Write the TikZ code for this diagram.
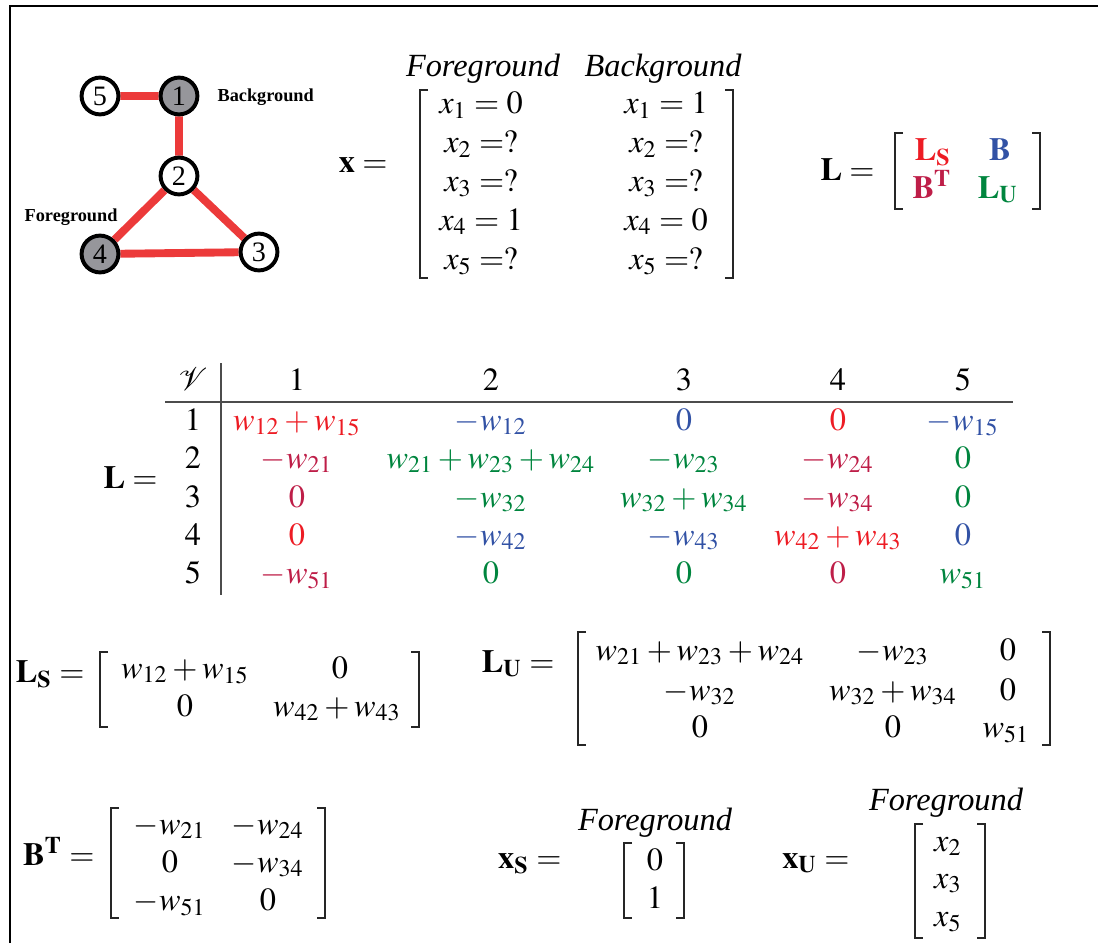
\documentclass[tikz,border=0pt]{standalone}
\usepackage{amsmath}
\usepackage{mathptmx}
\usepackage[no-math]{fontspec}
\setmainfont{Liberation Serif}
\usetikzlibrary{backgrounds}
\definecolor{lred}{RGB}{237,28,36}
\definecolor{lblue}{RGB}{50,82,165}
\definecolor{lcrim}{RGB}{190,30,72}
\definecolor{lgreen}{RGB}{0,133,62}
\definecolor{edgered}{RGB}{236,58,58}
\definecolor{vgray}{RGB}{150,150,155}

\newcommand{\qmk}{\mathrel{=}\mkern-0.5mu?}
% left and right bracket: x left, x right, y top, y bottom
\newcommand{\brkpair}[4]{%
  \draw[brk] (#1+8,#3) -- (#1,#3) -- (#1,#4) -- (#1+8,#4);
  \draw[brk] (#2-8,#3) -- (#2,#3) -- (#2,#4) -- (#2-8,#4);}

\tikzset{
  vtx/.style={circle, draw=black, line width=1.4pt, fill=white, minimum size=0.46cm,
    inner sep=0pt, font=\fontsize{10}{11}\selectfont},
  seed/.style={vtx, fill=vgray},
  lnk/.style={draw=edgered, line width=2.8pt},
  tag/.style={inner sep=0pt, font=\bfseries\fontsize{6.5}{7}\selectfont},
  ent/.style={anchor=base, inner sep=0pt},
  lhs/.style={anchor=base east, inner sep=0pt},
  hdr/.style={anchor=base, inner sep=0pt, font=\itshape\fontsize{11.5}{13.8}\selectfont},
  brk/.style={line width=0.85pt, black!85}
}

\begin{document}
\begin{tikzpicture}[x=0.0125cm, y=-0.0125cm, font=\fontsize{11.5}{13.8}\selectfont]
    \useasboundingbox (0,0) rectangle (1104,943);
    \draw[line width=0.6pt] (10,943) -- (10,6) -- (1098,6);

    % Graph
    \node[seed] (n1) at (179,96) {1};
    \node[vtx] (n2) at (179,176) {2};
    \node[vtx] (n3) at (259,252) {3};
    \node[seed] (n4) at (100,254) {4};
    \node[vtx] (n5) at (100,96) {5};
    \begin{scope}[on background layer]
        \draw[lnk] (n5) -- (n1) (n1) -- (n2) (n2) -- (n4) (n2) -- (n3) (n4) -- (n3);
    \end{scope}
    \node[tag, anchor=west] (bgtag) at (217,97) {Background};
    \node[tag, anchor=east] (fgtag) at (118,217) {Foreground};

    % Labelling vector x
    \node[lhs] (xeq) at (388,172) {$\mathbf{x} =$};
    \node[hdr] (xfg) at (483,77) {Foreground};
    \node[hdr] (xbg) at (663,77) {Background};
    \foreach \r/\y/\fg/\bg in {1/114/{=0}/{=1}, 2/153/{\qmk}/{\qmk}, 3/192/{\qmk}/{\qmk},
                                4/230/{=1}/{=0}, 5/269/{\qmk}/{\qmk}} {
        \node[ent] (fg\r) at (481,\y) {$x_{\r} \fg$};
        \node[ent] (bg\r) at (666,\y) {$x_{\r} \bg$};
    }
    \brkpair{420}{733}{90}{278}

    % Block form
    \node[lhs] (leq) at (875,180) {$\mathbf{L} =$};
    \node[ent, text=lred] (bls) at (933,160) {$\mathbf{L}_{\mathbf{S}}$};
    \node[ent, text=lblue] (bb) at (1000,160) {$\mathbf{B}$};
    \node[ent, text=lcrim] (bbt) at (932,198) {$\mathbf{B}^{\mathbf{T}}$};
    \node[ent, text=lgreen] (blu) at (998,198) {$\mathbf{L}_{\mathbf{U}}$};
    \brkpair{895}{1040}{133}{209}

    % Laplacian table
    \node[lhs] (teq) at (158,488) {$\mathbf{L} =$};
    \node[ent] (hv) at (193,390) {$\mathcal{V}$};
    \foreach \c/\x in {1/297, 2/491, 3/684, 4/838, 5/963}
        \node[ent] (h\c) at (\x,390) {$\c$};
    \foreach \r/\y in {1/430, 2/468, 3/507, 4/545, 5/583}
        \node[ent] (r\r) at (193,\y) {$\r$};
    \draw[gray!60!black, line width=0.6pt] (165,402) -- (1013,402);
    \draw[gray!60!black, line width=0.6pt] (221,363) -- (221,595);
    \foreach \r/\c/\col/\val in {
        1/1/lred/{w_{12}+w_{15}}, 1/2/lblue/{-w_{12}}, 1/3/lblue/0, 1/4/lred/0, 1/5/lblue/{-w_{15}},
        2/1/lcrim/{-w_{21}}, 2/2/lgreen/{w_{21}+w_{23}+w_{24}}, 2/3/lgreen/{-w_{23}}, 2/4/lcrim/{-w_{24}}, 2/5/lgreen/0,
        3/1/lcrim/0, 3/2/lgreen/{-w_{32}}, 3/3/lgreen/{w_{32}+w_{34}}, 3/4/lcrim/{-w_{34}}, 3/5/lgreen/0,
        4/1/lred/0, 4/2/lblue/{-w_{42}}, 4/3/lblue/{-w_{43}}, 4/4/lred/{w_{42}+w_{43}}, 4/5/lblue/0,
        5/1/lcrim/{-w_{51}}, 5/2/lgreen/0, 5/3/lgreen/0, 5/4/lcrim/0, 5/5/lgreen/{w_{51}}}
        \node[ent, text=\col] (e\r\c) at (h\c.base |- r\r.base) {$\val$};

    % L_S
    \node[lhs] (lseq) at (85,682) {$\mathbf{L}_{\mathbf{S}} =$};
    \foreach \n/\x/\y/\val in {a/185/678/{w_{12}+w_{15}}, b/340/678/0, c/185/716/0, d/337/716/{w_{42}+w_{43}}}
        \node[ent] (ls\n) at (\x,\y) {$\val$};
    \brkpair{100}{419}{652}{727}

    % L_U
    \node[lhs] (lueq) at (555,672) {$\mathbf{L}_{\mathbf{U}} =$};
    \foreach \n/\x/\y/\val in {a/700/660/{w_{21}+w_{23}+w_{24}}, b/893/660/{-w_{23}}, c/1008/660/0,
                               d/700/700/{-w_{32}}, e/893/700/{w_{32}+w_{34}}, f/1008/700/0,
                               g/700/737/0, h/893/737/0, i/1006/737/{w_{51}}}
        \node[ent] (lu\n) at (\x,\y) {$\val$};
    \brkpair{578}{1050}{632}{745}

    % B^T
    \node[lhs] (bteq) at (95,865) {$\mathbf{B}^{\mathbf{T}} =$};
    \foreach \n/\x/\y/\val in {a/170/834/{-w_{21}}, b/268/834/{-w_{24}}, c/170/872/0,
                               d/268/872/{-w_{34}}, e/170/910/{-w_{51}}, f/268/910/0}
        \node[ent] (bt\n) at (\x,\y) {$\val$};
    \brkpair{111}{325}{808}{918}

    % x_S and x_U
    \node[lhs] (xseq) at (562,868) {$\mathbf{x}_{\mathbf{S}} =$};
    \node[hdr] (xsfg) at (655,830) {Foreground};
    \node[ent] (xsa) at (655,870) {$0$};
    \node[ent] (xsb) at (655,908) {$1$};
    \brkpair{624}{684}{843}{918}

    \node[lhs] (xueq) at (850,868) {$\mathbf{x}_{\mathbf{U}} =$};
    \node[hdr] (xufg) at (946,810) {Foreground};
    \foreach \n/\y in {2/851, 3/888, 5/926}
        \node[ent] (xu\n) at (948,\y) {$x_{\n}$};
    \brkpair{915}{985}{824}{938}
\end{tikzpicture}
\end{document}
